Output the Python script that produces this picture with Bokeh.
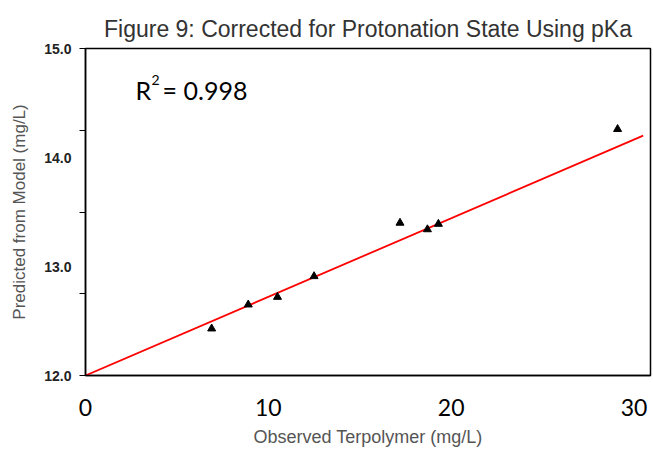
from bokeh.plotting import figure
from bokeh.models import FixedTicker, Range1d, Label
from bokeh.embed import file_html
from bokeh.resources import INLINE

# data
observed = [6.9, 8.9, 10.5, 12.5, 17.2, 18.7, 19.3, 29.1]
predicted = [12.43, 12.65, 12.72, 12.91, 13.40, 13.34, 13.39, 14.26]
fit_x = [0.0, 30.5]
fit_y = [12.0, 14.2]
x_ticks = [0, 10, 20, 30]
y_ticks = [12, 13, 14, 15]
y_tick_marks = [12, 12.75, 13.5, 14.25, 15]
title_text = "Figure 9: Corrected for Protonation State Using pKa"
r2_text = "0.998"

p = figure(width=653, height=450, output_backend="svg", toolbar_location=None,
           x_range=Range1d(0, 30.9), y_range=Range1d(12, 15),
           min_border_left=85, min_border_right=3, min_border_top=48, min_border_bottom=75)

p.title.text = title_text
p.title.align = "center"
p.title.text_font = "Liberation Sans"
p.title.text_font_size = "23px"
p.title.text_font_style = "normal"
p.title.text_color = "#333333"
p.title.offset = 0
p.title.standoff = 13

p.grid.visible = False
p.outline_line_color = "black"
p.outline_line_width = 1.5
p.background_fill_color = "white"
p.border_fill_color = "white"

# x axis
xa = p.xaxis[0]
xa.ticker = FixedTicker(ticks=x_ticks)
xa.major_tick_line_color = None
xa.minor_tick_line_color = None
xa.axis_line_color = "black"
xa.axis_line_width = 1.5
xa.major_label_text_font = "Lato"
xa.major_label_text_font_size = "23px"
xa.major_label_text_color = "black"
xa.major_label_standoff = 17
xa.axis_label = "Observed Terpolymer (mg/L)"
xa.axis_label_text_font = "Liberation Sans"
xa.axis_label_text_font_size = "18px"
xa.axis_label_text_font_style = "normal"
xa.axis_label_text_color = "#555555"
xa.axis_label_standoff = 8

# y axis
ya = p.yaxis[0]
ya.ticker = FixedTicker(ticks=y_ticks, minor_ticks=y_tick_marks)
ya.major_tick_line_color = None
ya.minor_tick_line_color = "black"
ya.minor_tick_out = 6
ya.minor_tick_in = 0
ya.axis_line_color = "black"
ya.axis_line_width = 1.5
ya.major_label_overrides = {t: f"{t:.1f}" for t in y_ticks}
ya.major_label_text_font = "Liberation Sans"
ya.major_label_text_font_style = "bold"
ya.major_label_text_font_size = "14px"
ya.major_label_text_color = "#222222"
ya.major_label_standoff = 8
ya.axis_label = "Predicted from Model (mg/L)"
ya.axis_label_text_font = "Liberation Sans"
ya.axis_label_text_font_size = "17px"
ya.axis_label_text_font_style = "normal"
ya.axis_label_text_color = "#555555"
ya.axis_label_standoff = 12

p.line(fit_x, fit_y, line_color="red", line_width=1.8)
p.scatter(observed, predicted, marker="triangle", size=8, fill_color="black", line_color="black")

p.add_layout(Label(x=2.74, y=14.615, text="R", text_font="Lato", text_font_size="25px",
                   text_baseline="middle", text_align="left", text_color="black"))
p.add_layout(Label(x=2.74, y=14.615, x_offset=16, y_offset=10, text="2", text_font="Lato",
                   text_font_size="14px", text_baseline="middle", text_align="left", text_color="black"))
p.add_layout(Label(x=2.74, y=14.615, x_offset=27, text="= " + r2_text, text_font="Lato",
                   text_font_size="25px", text_baseline="middle", text_align="left", text_color="black"))

open("out.html", "w").write(file_html(p, INLINE))
